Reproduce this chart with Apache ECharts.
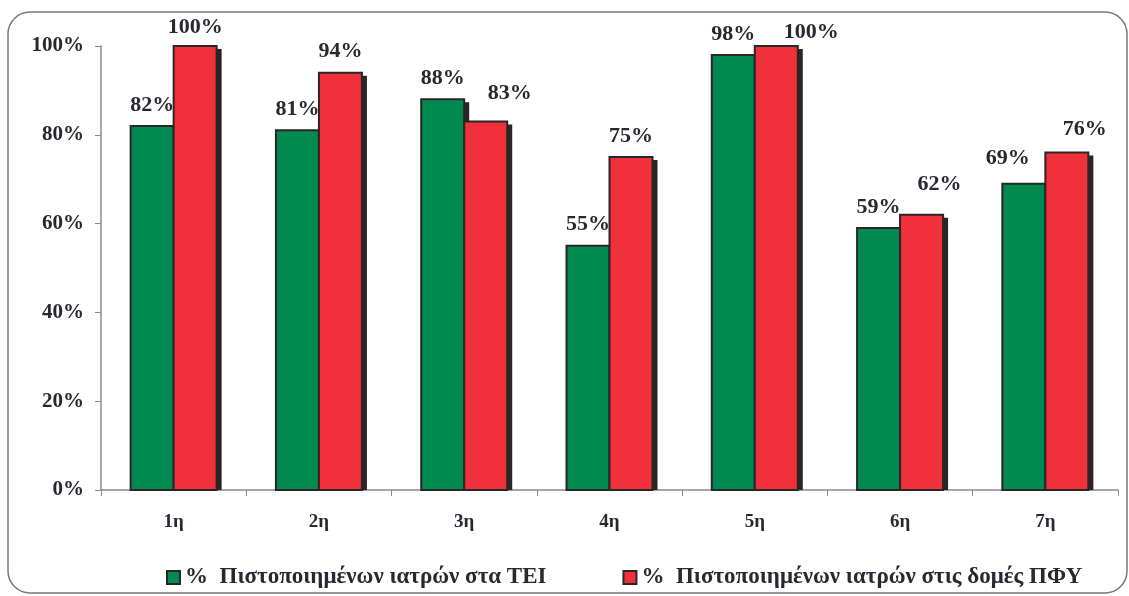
<!DOCTYPE html>
<html>
<head>
<meta charset="utf-8">
<script src="https://cdn.jsdelivr.net/npm/echarts@6/dist/echarts.min.js"></script>
<style>
  html, body { margin: 0; padding: 0; background: #fff; }
  #chart { width: 1129px; height: 596px; }
</style>
</head>
<body>
<div id="chart"></div>
<script>
// Categories and percentages per series
const categories = ['1η', '2η', '3η', '4η', '5η', '6η', '7η'];
const teiValues = [82, 81, 88, 55, 98, 59, 69];
const pfyValues = [100, 94, 83, 75, 100, 62, 76];
const seriesNames = [
  '%  Πιστοποιημένων ιατρών στα ΤΕΙ',
  '%  Πιστοποιημένων ιατρών στις δομές ΠΦΥ'
];
const yTicks = [0, 20, 40, 60, 80, 100];

const serif = '"Liberation Serif", "DejaVu Serif", serif';
const textColor = '#2a2733';
const edgeColor = '#2b2523';
const BAR_W = 43;
const LABEL_GAP = 21;

// Hand-placed label nudges [dx, dy] in pixels, so neighbouring labels don't collide
const labelNudges = [
  [[0, 0], [0, 0], [0, 0], [0, 0], [0, 0], [0, 0], [-16, -4]],
  [[0, 2], [0, 0], [24, -7], [0, 0], [35, 7], [18, -9], [18, -2]]
];

// Bar with a dark border, a hard drop shadow on the right and a value label on top
function makeRenderItem(side) {
  return function (params, api) {
    const idx = api.value(0);
    const val = api.value(1);
    const base = api.coord([idx, 0]);
    const top = api.coord([idx, val]);
    const x = side === 0 ? base[0] - BAR_W : base[0];
    const h = base[1] - top[1];
    const nudge = labelNudges[side][idx];
    return {
      type: 'group',
      children: [
        {
          type: 'rect',
          shape: { x: x + 5, y: top[1] + 3, width: BAR_W, height: h - 3 },
          style: { fill: edgeColor }
        },
        {
          type: 'rect',
          shape: { x: x, y: top[1], width: BAR_W, height: h },
          style: { fill: api.visual('color'), stroke: edgeColor, lineWidth: 2 }
        },
        {
          type: 'text',
          x: x + BAR_W / 2 + nudge[0],
          y: top[1] - LABEL_GAP + nudge[1],
          style: {
            text: val + '%',
            align: 'center',
            verticalAlign: 'middle',
            font: 'bold 22px ' + serif,
            fill: textColor
          }
        }
      ]
    };
  };
}

function barSeries(i, values, color) {
  return {
    name: seriesNames[i],
    type: 'custom',
    renderItem: makeRenderItem(i),
    itemStyle: { color: color },
    encode: { x: 0, y: 1 },
    data: values.map((v, k) => [k, v])
  };
}

const chart = echarts.init(document.getElementById('chart'));
chart.setOption({
  backgroundColor: '#fff',
  animation: false,
  graphic: [{
    type: 'rect',
    shape: { x: 8, y: 12, width: 1119, height: 581, r: 22 },
    style: { fill: 'none', stroke: '#7a7a7a', lineWidth: 1.5 },
    silent: true,
    z: -1
  }],
  grid: { left: 101, right: 11, top: 46, bottom: 106, containLabel: false },
  legend: {
    top: 566,
    left: 166,
    padding: 0,
    itemGap: 76,
    itemWidth: 13,
    itemHeight: 13,
    icon: 'rect',
    textStyle: { fontFamily: serif, fontWeight: 'bold', fontSize: 23, color: textColor },
    data: seriesNames.map(n => ({ name: n, itemStyle: { borderColor: edgeColor, borderWidth: 2 } }))
  },
  xAxis: {
    type: 'category',
    data: categories,
    axisLine: { lineStyle: { color: '#8a8a8a', width: 1.5 } },
    axisTick: { show: true, alignWithLabel: false, length: 6, lineStyle: { color: '#8a8a8a' } },
    axisLabel: { margin: 23, fontFamily: serif, fontWeight: 'bold', fontSize: 19, color: textColor }
  },
  yAxis: {
    type: 'value',
    min: 0,
    max: 100,
    interval: 20,
    splitLine: { show: false },
    axisLine: { show: true, lineStyle: { color: '#8a8a8a', width: 1.5 } },
    axisTick: { show: true, length: 6, lineStyle: { color: '#8a8a8a' } },
    axisLabel: {
      margin: 17,
      fontFamily: serif,
      fontWeight: 'bold',
      fontSize: 21,
      color: textColor,
      formatter: v => (yTicks.includes(v) ? v + '%' : '')
    }
  },
  series: [
    barSeries(0, teiValues, '#008a52'),
    barSeries(1, pfyValues, '#f0303a')
  ]
});
</script>
</body>
</html>
